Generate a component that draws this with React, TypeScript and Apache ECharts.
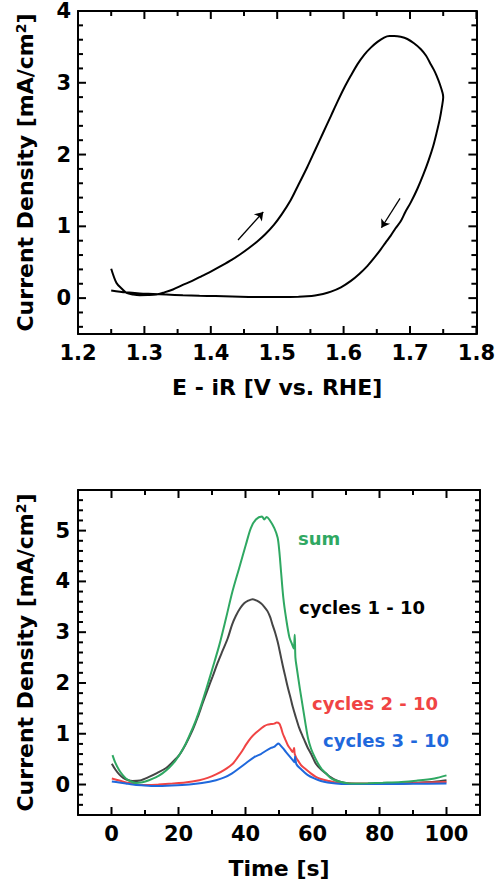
import React, { useEffect, useRef } from 'react';
import * as echarts from 'echarts';

const FONT = '"DejaVu Sans", "Liberation Sans", Arial, sans-serif';

// ---------- Top chart: cyclic voltammogram ----------
const cvForwardE = [1.250, 1.258, 1.266, 1.273, 1.283, 1.293, 1.305, 1.318, 1.330, 1.343, 1.357, 1.372, 1.387, 1.402, 1.417, 1.432, 1.445, 1.457, 1.470, 1.482, 1.495, 1.507, 1.520, 1.532, 1.545, 1.557, 1.569, 1.581, 1.591, 1.601, 1.611, 1.621, 1.631, 1.641, 1.651, 1.661, 1.669, 1.676, 1.686, 1.696, 1.706, 1.716, 1.724, 1.730, 1.736, 1.740, 1.745, 1.749, 1.750];
const cvForwardJ = [0.41, 0.21, 0.13, 0.074, 0.05, 0.04, 0.042, 0.05, 0.08, 0.12, 0.18, 0.24, 0.31, 0.38, 0.455, 0.535, 0.615, 0.695, 0.79, 0.89, 1.02, 1.17, 1.36, 1.58, 1.82, 2.06, 2.30, 2.54, 2.74, 2.93, 3.10, 3.26, 3.39, 3.49, 3.57, 3.63, 3.65, 3.65, 3.64, 3.61, 3.55, 3.47, 3.38, 3.28, 3.18, 3.10, 2.98, 2.86, 2.80];
const cvReverseE = [1.748, 1.745, 1.740, 1.735, 1.728, 1.720, 1.711, 1.701, 1.693, 1.686, 1.678, 1.671, 1.663, 1.656, 1.646, 1.636, 1.624, 1.611, 1.596, 1.581, 1.569, 1.557, 1.545, 1.532, 1.507, 1.482, 1.457, 1.432, 1.407, 1.383, 1.358, 1.333, 1.313, 1.293, 1.272, 1.250];
const cvReverseJ = [2.66, 2.50, 2.30, 2.12, 1.92, 1.72, 1.52, 1.33, 1.20, 1.07, 0.97, 0.87, 0.77, 0.68, 0.56, 0.45, 0.34, 0.24, 0.15, 0.09, 0.058, 0.037, 0.026, 0.02, 0.015, 0.014, 0.017, 0.023, 0.028, 0.033, 0.04, 0.05, 0.058, 0.065, 0.08, 0.107];
const arrowUp = [[1.441, 0.81], [1.479, 1.2]];
const arrowDown = [[1.685, 1.39], [1.657, 0.98]];

const topXMajor = [1.2, 1.3, 1.4, 1.5, 1.6, 1.7, 1.8];
const topXMinor = [1.25, 1.35, 1.45, 1.55, 1.65, 1.75];
const topYMajor = [0, 1, 2, 3, 4];
const topYMinor = [-0.4, -0.2, 0.2, 0.4, 0.6, 0.8, 1.2, 1.4, 1.6, 1.8, 2.2, 2.4, 2.6, 2.8, 3.2, 3.4, 3.6, 3.8];

// ---------- Bottom chart: current vs time ----------
const sumT = [0.3, 1.2, 2.3, 3.3, 4.3, 5.8, 7.3, 9.2, 11.2, 13.2, 15.2, 17.2, 19.2, 20.7, 22.2, 23.7, 25.2, 26.7, 28.2, 30.2, 32.2, 34.2, 36.1, 38.1, 40.1, 41.6, 43.1, 44.9, 45.6, 46.3, 47.1, 48.6, 49.6, 50.1, 50.6, 51.3, 52.1, 53.1, 53.8, 54.4, 54.7, 54.9, 55.3, 56.2, 57.1, 57.9, 58.7, 59.6, 60.6, 61.7, 62.8, 64, 65.2, 66.5, 68.5, 70, 72, 76.5, 81, 86.5, 91, 96.4, 100];
const sumJ = [0.58, 0.42, 0.28, 0.19, 0.12, 0.06, 0.03, 0.045, 0.085, 0.14, 0.22, 0.33, 0.48, 0.63, 0.81, 1.03, 1.27, 1.55, 1.86, 2.3, 2.75, 3.28, 3.8, 4.26, 4.72, 5.05, 5.22, 5.28, 5.22, 5.27, 5.22, 5.05, 4.86, 4.59, 4.2, 3.67, 3.28, 2.9, 2.78, 2.68, 2.95, 2.5, 2.3, 1.9, 1.53, 1.2, 0.9, 0.7, 0.55, 0.41, 0.3, 0.22, 0.14, 0.09, 0.05, 0.03, 0.02, 0.025, 0.035, 0.05, 0.075, 0.12, 0.18];

const c1T = [0.1, 1.2, 2.3, 3.5, 4.8, 6.3, 8.5, 11.2, 13.7, 16.2, 18.2, 20.2, 22.2, 24.2, 25.7, 27.2, 28.7, 30.2, 31.7, 33.2, 34.7, 36, 37.1, 38.4, 39.6, 40.8, 42.1, 43.4, 44.6, 45.6, 46.6, 47.4, 48.1, 48.9, 49.6, 50.3, 51.1, 51.8, 52.6, 53.4, 54.1, 55, 56, 57, 57.6, 58.6, 59.6, 61, 62.5, 64, 65.5, 67, 68.5, 70.5, 73, 76.5, 81, 86.5, 91, 96.4, 100];
const c1J = [0.41, 0.29, 0.2, 0.13, 0.09, 0.07, 0.08, 0.15, 0.23, 0.32, 0.44, 0.58, 0.8, 1.07, 1.32, 1.6, 1.87, 2.13, 2.4, 2.64, 2.88, 3.15, 3.32, 3.47, 3.57, 3.62, 3.65, 3.62, 3.57, 3.5, 3.41, 3.29, 3.14, 2.98, 2.81, 2.6, 2.35, 2.15, 1.92, 1.72, 1.53, 1.33, 1.12, 0.96, 0.87, 0.72, 0.6, 0.41, 0.3, 0.22, 0.14, 0.085, 0.05, 0.025, 0.012, 0.01, 0.012, 0.02, 0.035, 0.055, 0.085];

const c2T = [0.1, 2.3, 4.3, 6.3, 8.2, 11, 14, 18.2, 22, 26.2, 28.7, 31.2, 33.7, 36.2, 37.6, 39, 40.1, 41.6, 43.1, 44.6, 45.6, 46.6, 47.6, 48.6, 49.3, 50.1, 50.6, 51.1, 51.8, 52.6, 53.4, 54.1, 54.5, 54.7, 55.2, 55.6, 56.6, 58, 59.5, 61, 62.5, 64.5, 67, 71.5, 80, 90, 100];
const c2J = [0.12, 0.08, 0.04, 0.02, -0.01, -0.01, 0.0, 0.02, 0.04, 0.085, 0.13, 0.2, 0.29, 0.41, 0.53, 0.66, 0.78, 0.92, 1.02, 1.1, 1.15, 1.18, 1.19, 1.2, 1.22, 1.2, 1.12, 1.01, 0.9, 0.78, 0.7, 0.64, 0.72, 0.6, 0.52, 0.48, 0.38, 0.3, 0.22, 0.15, 0.11, 0.075, 0.04, 0.02, 0.02, 0.03, 0.05];

const c3T = [0.1, 2.3, 4.3, 6.3, 9, 13.2, 18, 23.2, 27, 31.2, 33.7, 36, 38.1, 40.1, 42.6, 44.6, 46, 47.6, 48.5, 49.2, 49.8, 50.3, 51.1, 52.1, 53.1, 54.1, 54.6, 54.8, 55.2, 56.6, 58.5, 60.5, 62.5, 64.5, 67, 70, 80, 90, 100];
const c3J = [0.06, 0.04, 0.02, 0.0, -0.015, -0.03, -0.02, 0.0, 0.03, 0.085, 0.14, 0.22, 0.32, 0.42, 0.54, 0.6, 0.66, 0.72, 0.74, 0.78, 0.81, 0.78, 0.72, 0.64, 0.56, 0.48, 0.44, 0.55, 0.4, 0.3, 0.19, 0.12, 0.07, 0.04, 0.02, 0.01, 0.01, 0.015, 0.02];

const botXMajor = [0, 20, 40, 60, 80, 100];
const botXMinor = [10, 30, 50, 70, 90];
const botYMajor = [0, 1, 2, 3, 4, 5];
const botYMinor = [-0.4, -0.2, 0.2, 0.4, 0.6, 0.8, 1.2, 1.4, 1.6, 1.8, 2.2, 2.4, 2.6, 2.8, 3.2, 3.4, 3.6, 3.8, 4.2, 4.4, 4.6, 4.8, 5.2, 5.4, 5.6];

const curveLabels = [
  { text: 'sum', color: '#2fa862', x: 298, y: 538 },
  { text: 'cycles 1 - 10', color: '#000000', x: 299, y: 607 },
  { text: 'cycles 2 - 10', color: '#f04444', x: 312, y: 703 },
  { text: 'cycles 3 - 10', color: '#1f68dc', x: 323, y: 740 },
];

const GREEN = '#2fa862';
const GREY = '#454545';
const RED = '#f04444';
const BLUE = '#1f68dc';
const TICK = '#000000';
const MAJOR_LEN = 8;
const MINOR_LEN = 5;

const TOP_X: [number, number] = [1.2, 1.8];
const TOP_Y: [number, number] = [-0.5, 4];
const BOT_X: [number, number] = [-10, 110];
const BOT_Y: [number, number] = [-0.6, 5.8];

const zip = (a: number[], b: number[]) => a.map((v, i) => [v, b[i]]);

const labelStyle = {
  fontSize: 21,
  fontWeight: 'bold' as const,
  fontFamily: FONT,
  color: '#000',
};

const nameStyle = {
  fontSize: 22,
  fontWeight: 'bold' as const,
  fontFamily: FONT,
  color: '#000',
  rich: {
    sup: { fontSize: 14, fontWeight: 'bold' as const, fontFamily: FONT, color: '#000', verticalAlign: 'top' as const },
  },
};

function makeAxes(
  kind: 'x' | 'y',
  gridIndex: number,
  range: [number, number],
  majors: number[],
  name: string,
  nameGap: number,
  labelMargin: number,
  formatter?: (v: number) => string,
) {
  const mainPos = kind === 'x' ? 'bottom' : 'left';
  const oppPos = kind === 'x' ? 'top' : 'right';
  const base = {
    gridIndex,
    type: 'value',
    min: range[0],
    max: range[1],
    splitLine: { show: false },
    axisTick: { show: false },
    z: 5,
  };
  const line = { show: true, onZero: false, lineStyle: { color: '#000', width: 2 } };
  return [
    {
      ...base,
      position: mainPos,
      axisLine: line,
      axisLabel: {
        show: true,
        customValues: majors,
        margin: labelMargin,
        ...labelStyle,
        ...(formatter ? { formatter } : {}),
      },
      name,
      nameLocation: 'middle',
      nameGap,
      nameRotate: kind === 'y' ? 90 : 0,
      nameTextStyle: nameStyle,
    },
    { ...base, position: oppPos, axisLine: line, axisLabel: { show: false } },
  ];
}

// Inward ticks on both opposite sides of a grid, placed through the axes' own coordinate system.
function tickSeries(
  dim: 'x' | 'y',
  xAxisIndex: number,
  yAxisIndex: number,
  otherRange: [number, number],
  majors: number[],
  minors: number[],
) {
  return {
    type: 'custom',
    coordinateSystem: 'cartesian2d',
    xAxisIndex,
    yAxisIndex,
    silent: true,
    clip: false,
    z: 10,
    encode: dim === 'x' ? { x: 0, y: 1 } : { y: 0, x: 1 },
    data: [...majors.map((v) => [v, 1]), ...minors.map((v) => [v, 0])],
    renderItem: (params: any, api: any) => {
      const v = api.value(0);
      const len = api.value(1) ? MAJOR_LEN : MINOR_LEN;
      const style = { stroke: TICK, lineWidth: 2 };
      if (dim === 'x') {
        const a = api.coord([v, otherRange[0]]);
        const b = api.coord([v, otherRange[1]]);
        return {
          type: 'group',
          children: [
            { type: 'line', shape: { x1: a[0], y1: a[1], x2: a[0], y2: a[1] - len }, style },
            { type: 'line', shape: { x1: b[0], y1: b[1], x2: b[0], y2: b[1] + len }, style },
          ],
        };
      }
      const a = api.coord([otherRange[0], v]);
      const b = api.coord([otherRange[1], v]);
      return {
        type: 'group',
        children: [
          { type: 'line', shape: { x1: a[0], y1: a[1], x2: a[0] + len, y2: a[1] }, style },
          { type: 'line', shape: { x1: b[0], y1: b[1], x2: b[0] - len, y2: b[1] }, style },
        ],
      };
    },
  };
}

export default function App() {
  const ref = useRef<HTMLDivElement>(null);

  useEffect(() => {
    if (!ref.current) return;
    const chart = echarts.init(ref.current, undefined, { renderer: 'svg' });

    const cvData = [...zip(cvForwardE, cvForwardJ), ...zip(cvReverseE, cvReverseJ)];

    const xAxes = [
      ...makeAxes('x', 0, TOP_X, topXMajor, 'E - iR [V vs. RHE]', 42, 8, (v: number) => v.toFixed(1)),
      ...makeAxes('x', 1, BOT_X, botXMajor, 'Time [s]', 42, 8),
    ];
    const yAxes = [
      ...makeAxes('y', 0, TOP_Y, topYMajor, 'Current Density [mA/cm{sup|2}]', 42, 7),
      ...makeAxes('y', 1, BOT_Y, botYMajor, 'Current Density [mA/cm{sup|2}]', 42, 8),
    ];

    const lineBase = {
      type: 'line',
      showSymbol: false,
      symbol: 'none',
      smooth: 0.3,
      silent: true,
    };

    chart.setOption({
      animation: false,
      grid: [
        { left: 78, top: 11, width: 402, height: 323, containLabel: false },
        { left: 78, top: 490, width: 402, height: 325, containLabel: false },
      ],
      xAxis: xAxes,
      yAxis: yAxes,
      series: [
        {
          ...lineBase,
          name: 'CV',
          xAxisIndex: 0,
          yAxisIndex: 0,
          data: cvData,
          lineStyle: { color: '#000', width: 2 },
          markLine: {
            silent: true,
            symbol: ['none', 'arrow'],
            symbolSize: 8,
            label: { show: false },
            lineStyle: { color: '#000', width: 1.3, type: 'solid' },
            emphasis: { disabled: true },
            data: [
              [{ coord: arrowUp[0] }, { coord: arrowUp[1] }],
              [{ coord: arrowDown[0] }, { coord: arrowDown[1] }],
            ],
          },
        },
        {
          ...lineBase,
          name: 'cycles 1 - 10',
          xAxisIndex: 2,
          yAxisIndex: 2,
          data: zip(c1T, c1J),
          lineStyle: { color: GREY, width: 2 },
        },
        {
          ...lineBase,
          name: 'cycles 2 - 10',
          xAxisIndex: 2,
          yAxisIndex: 2,
          data: zip(c2T, c2J),
          lineStyle: { color: RED, width: 2 },
        },
        {
          ...lineBase,
          name: 'cycles 3 - 10',
          xAxisIndex: 2,
          yAxisIndex: 2,
          data: zip(c3T, c3J),
          lineStyle: { color: BLUE, width: 2 },
        },
        {
          ...lineBase,
          name: 'sum',
          xAxisIndex: 2,
          yAxisIndex: 2,
          data: zip(sumT, sumJ),
          lineStyle: { color: GREEN, width: 2 },
        },
        tickSeries('x', 0, 0, TOP_Y, topXMajor, topXMinor),
        tickSeries('y', 0, 0, TOP_X, topYMajor, topYMinor),
      ],
    });

    // Bottom grid ticks: positions converted through the bottom grid's own scales.
    const tickEls: any[] = [];
    const toPx = (x: number, y: number): number[] | null => {
      const p = chart.convertToPixel({ gridIndex: 1 } as any, [x, y]) as any;
      if (!p || !isFinite(p[0]) || !isFinite(p[1])) return null;
      return p;
    };
    const addLine = (x1: number, y1: number, x2: number, y2: number) =>
      tickEls.push({
        type: 'line',
        silent: true,
        z: 10,
        shape: { x1, y1, x2, y2 },
        style: { stroke: TICK, lineWidth: 2 },
      });
    const addX = (v: number, len: number) => {
      const a = toPx(v, BOT_Y[0]);
      const b = toPx(v, BOT_Y[1]);
      if (a) addLine(a[0], a[1], a[0], a[1] - len);
      if (b) addLine(b[0], b[1], b[0], b[1] + len);
    };
    const addY = (v: number, len: number) => {
      const a = toPx(BOT_X[0], v);
      const b = toPx(BOT_X[1], v);
      if (a) addLine(a[0], a[1], a[0] + len, a[1]);
      if (b) addLine(b[0], b[1], b[0] - len, b[1]);
    };
    botXMajor.forEach((v) => addX(v, MAJOR_LEN));
    botXMinor.forEach((v) => addX(v, MINOR_LEN));
    botYMajor.forEach((v) => addY(v, MAJOR_LEN));
    botYMinor.forEach((v) => addY(v, MINOR_LEN));

    const labelEls = curveLabels.map((l) => ({
      type: 'text',
      x: l.x,
      y: l.y,
      silent: true,
      style: {
        text: l.text,
        fill: l.color,
        font: `bold 18px ${FONT}`,
        align: 'left',
        verticalAlign: 'middle',
      },
    }));

    chart.setOption({ graphic: [...labelEls, ...tickEls] });

    return () => chart.dispose();
  }, []);

  return (
    <div
      ref={ref}
      style={{ position: 'absolute', left: 0, top: 0, width: 498, height: 890, background: '#fff' }}
    />
  );
}
